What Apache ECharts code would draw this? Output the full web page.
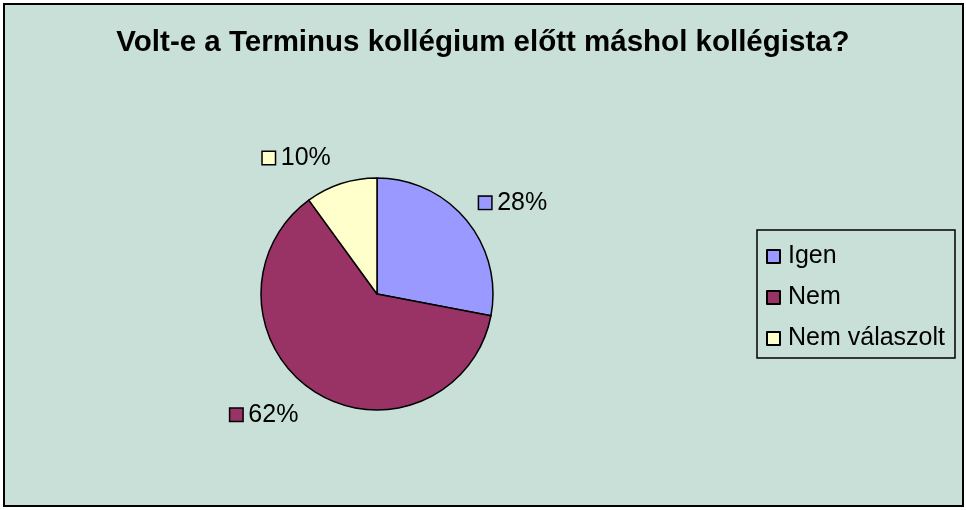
<!DOCTYPE html>
<html>
<head>
<meta charset="utf-8">
<script src="https://cdn.jsdelivr.net/npm/echarts@6/dist/echarts.min.js"></script>
<style>
  html, body { margin: 0; padding: 0; background: #fff; }
  #chart { width: 966px; height: 510px; }
</style>
</head>
<body>
<div id="chart"></div>
<script>
var categories = ['Igen', 'Nem', 'Nem válaszolt'];
var values = [28, 62, 10];
var colors = ['#9999FF', '#993366', '#FFFFCC'];

var font = "'Liberation Sans', Arial, sans-serif";

var rich = {
  t: { fontSize: 25, fontFamily: font, color: '#000', padding: [0, 0, 0, 6] }
};
colors.forEach(function (c, i) {
  rich['s' + i] = {
    width: 12, height: 12, backgroundColor: c,
    borderColor: '#000', borderWidth: 1.5
  };
});

var pieData = categories.map(function (name, i) {
  var item = { name: name, value: values[i], itemStyle: { color: colors[i] } };
  if (i === 0) item.label = { distanceToLabelLine: -8 };
  return item;
});

var option = {
  backgroundColor: '#fff',
  animation: false,
  graphic: [{
    type: 'rect',
    z: -10,
    shape: { x: 4, y: 4, width: 959, height: 502 },
    style: { fill: '#C8E0D8', stroke: '#000', lineWidth: 2 }
  }],
  title: {
    text: 'Volt-e a Terminus kollégium előtt máshol kollégista?',
    left: 'center',
    top: 28,
    padding: 0,
    textStyle: { fontSize: 29.5, fontWeight: 'bold', fontFamily: font, color: '#000' }
  },
  legend: {
    orient: 'vertical',
    left: 757,
    top: 230,
    padding: [14, 10, 7, 9],
    itemGap: 16,
    itemWidth: 13,
    itemHeight: 13,
    icon: 'rect',
    borderColor: '#000',
    borderWidth: 1.5,
    data: categories,
    textStyle: { fontSize: 25, fontFamily: font, color: '#000', lineHeight: 25, padding: [0, 0, 0, 3] }
  },
  series: [{
    type: 'pie',
    center: [377, 294],
    radius: 116,
    startAngle: 90,
    clockwise: true,
    avoidLabelOverlap: false,
    itemStyle: { borderColor: '#000', borderWidth: 1.5 },
    label: {
      show: true,
      position: 'outside',
      distanceToLabelLine: 2,
      formatter: function (p) {
        return '{s' + p.dataIndex + '|}{t|' + p.value + '%}';
      },
      rich: rich
    },
    labelLine: { show: false, length: 27, length2: 0 },
    emphasis: { disabled: true },
    data: pieData
  }]
};

var chart = echarts.init(document.getElementById('chart'));
chart.setOption(option);
</script>
</body>
</html>
